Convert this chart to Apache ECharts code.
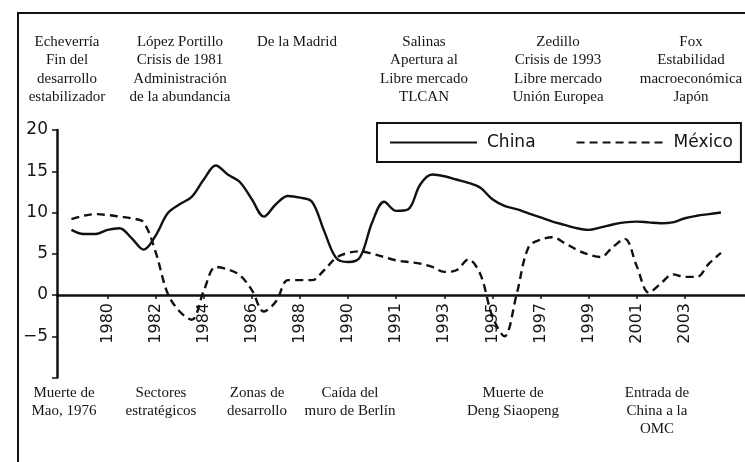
<!DOCTYPE html>
<html>
<head>
<meta charset="utf-8">
<script src="https://cdn.jsdelivr.net/npm/echarts@6/dist/echarts.min.js"></script>
<style>
  * { box-sizing: border-box; margin: 0; padding: 0; }
  html, body { width: 745px; height: 462px; background: #fff; overflow: hidden; }
  #chart { width: 745px; height: 462px; }
</style>
</head>
<body>
<div id="chart"></div>
<script>
// posiciones sobre el eje x (cada unidad = medio paso entre etiquetas)
const pos = [
  1978.5, 1979, 1979.5, 1980, 1980.5, 1981, 1981.5, 1982, 1982.5, 1983, 1983.5,
  1984, 1984.5, 1985, 1985.5, 1986, 1986.5, 1987, 1987.5, 1988, 1988.5, 1989,
  1989.5, 1990, 1990.5, 1991, 1991.5, 1992, 1992.5, 1993, 1993.5, 1994, 1994.5,
  1995, 1995.5, 1996, 1996.5, 1997, 1997.5, 1998, 1998.5, 1999, 1999.5, 2000,
  2000.5, 2001, 2001.5, 2002, 2002.5, 2003, 2003.5, 2004, 2004.5, 2005, 2005.5
];
const china = [
  7.9, 7.4, 7.4, 7.9, 8.1, 6.9, 5.5, 7.2, 9.9, 11.0, 11.9,
  14.0, 15.7, 14.6, 13.7, 11.6, 9.5, 11.0, 12.0, 11.8, 11.3, 7.8,
  4.5, 4.0, 4.6, 8.8, 11.3, 10.2, 10.4, 13.4, 14.6, 14.4, 14.0,
  13.6, 13.0, 11.6, 10.8, 10.4, 9.9, 9.4, 8.9, 8.5, 8.1, 7.9,
  8.2, 8.55, 8.8, 8.9, 8.8, 8.7, 8.8, 9.3, 9.6, 9.8, 10.0
];
const mexico = [
  9.2, 9.6, 9.8, 9.7, 9.5, 9.3, 8.8, 5.2, 0.2, -2.0, -3.0,
  0.5, 3.4, 3.1, 2.4, 0.6, -2.0, -0.8, 1.8, 1.8, 1.8, 3.0,
  4.5, 5.1, 5.3, 5.0, 4.6, 4.2, 4.0, 3.8, 3.4, 2.8, 3.0,
  4.3, 2.5, -2.6, -5.0, 0.0, 5.8, 6.7, 7.0, 6.3, 5.5, 4.9,
  4.6, 5.8, 6.8, 3.5, 0.3, 1.4, 2.5, 2.2, 2.2, 3.8, 5.1
];
// etiquetas del eje x tal como aparecen impresas
const tickPos = [1980, 1982, 1984, 1986, 1988, 1990, 1992, 1994, 1996, 1998, 2000, 2002, 2004];
const tickLabels = ['1980', '1982', '1984', '1986', '1988', '1990', '1991', '1993', '1995', '1997', '1999', '2001', '2003'];

// notas arriba (sexenios) y abajo (eventos en China)
const topNotes = [
  ['Echeverría', 'Fin del', 'desarrollo', 'estabilizador'],
  ['López Portillo', 'Crisis de 1981', 'Administración', 'de la abundancia'],
  ['De la Madrid'],
  ['Salinas', 'Apertura al', 'Libre mercado', 'TLCAN'],
  ['Zedillo', 'Crisis de 1993', 'Libre mercado', 'Unión Europea'],
  ['Fox', 'Estabilidad', 'macroeconómica', 'Japón']
];
const bottomNotes = [
  ['Muerte de', 'Mao, 1976'],
  ['Sectores', 'estratégicos'],
  ['Zonas de', 'desarrollo'],
  ['Caída del', 'muro de Berlín'],
  ['Muerte de', 'Deng Siaopeng'],
  ['Entrada de', 'China a la', 'OMC']
];
const topNoteX = [67, 180, 297, 424, 558, 691];
const bottomNoteX = [64, 161, 257, 350, 513, 657];

const chart = echarts.init(document.getElementById('chart'));

const noteFont = { fontFamily: 'Liberation Serif', fontSize: 15, fill: '#151515' };
const notes = [];
topNotes.forEach((lines, i) => {
  notes.push({
    type: 'text', x: topNoteX[i], y: 33,
    style: Object.assign({ text: lines.join('\n'), textAlign: 'center', textVerticalAlign: 'top', lineHeight: 18.3 }, noteFont)
  });
});
bottomNotes.forEach((lines, i) => {
  notes.push({
    type: 'text', x: bottomNoteX[i], y: 384,
    style: Object.assign({ text: lines.join('\n'), textAlign: 'center', textVerticalAlign: 'top', lineHeight: 18 }, noteFont)
  });
});

const option = {
  backgroundColor: '#fff',
  animation: false,
  grid: { left: 57, right: 0, top: 130, bottom: 84.5 },
  legend: {
    left: 377, top: 123,
    data: ['China', 'México'],
    itemWidth: 87, itemHeight: 14, itemGap: 40,
    padding: [11, 8, 11, 12],
    borderColor: '#111', borderWidth: 2,
    itemStyle: { opacity: 0 },
    textStyle: { fontFamily: 'DejaVu Sans', fontSize: 17, color: '#111', padding: [0, 0, 0, 5] }
  },
  xAxis: {
    type: 'value',
    min: 1977.9, max: 2006.5,
    // el eje horizontal va sobre el cero
    offset: -82.5,
    splitLine: { show: false },
    axisLine: { onZero: false, lineStyle: { color: '#111', width: 2.5 } },
    axisTick: { customValues: tickPos, length: 4, lineStyle: { color: '#111', width: 1.5 } },
    axisLabel: {
      customValues: tickPos,
      rotate: 90, margin: 8,
      fontFamily: 'DejaVu Sans', fontSize: 16, color: '#161616',
      formatter: v => tickLabels[tickPos.indexOf(Math.round(v))] || ''
    }
  },
  yAxis: {
    type: 'value',
    min: -10, max: 20, interval: 5,
    splitLine: { show: false },
    axisLine: { show: true, lineStyle: { color: '#111', width: 2.5 } },
    axisTick: { show: true, length: 5, lineStyle: { color: '#111', width: 1.5 } },
    axisLabel: {
      margin: 9,
      fontFamily: 'DejaVu Sans', fontSize: 17, color: '#161616',
      formatter: v => (v === -10 ? '' : String(v).replace('-', '\u2212'))
    }
  },
  series: [
    {
      name: 'China', type: 'line', symbol: 'none', smooth: 0.35,
      data: pos.map((p, i) => [p, china[i]]),
      lineStyle: { color: '#111', width: 2.4 },
      itemStyle: { color: '#111' }
    },
    {
      name: 'México', type: 'line', symbol: 'none', smooth: 0.35,
      data: pos.map((p, i) => [p, mexico[i]]),
      lineStyle: { color: '#111', width: 2.4, type: [8, 5] },
      itemStyle: { color: '#111' }
    }
  ],
  graphic: [
    {
      type: 'polyline',
      shape: { points: [[18, 462], [18, 13], [745, 13]] },
      style: { stroke: '#111', lineWidth: 2, fill: null }
    }
  ].concat(notes)
};

chart.setOption(option);
</script>
</body>
</html>
